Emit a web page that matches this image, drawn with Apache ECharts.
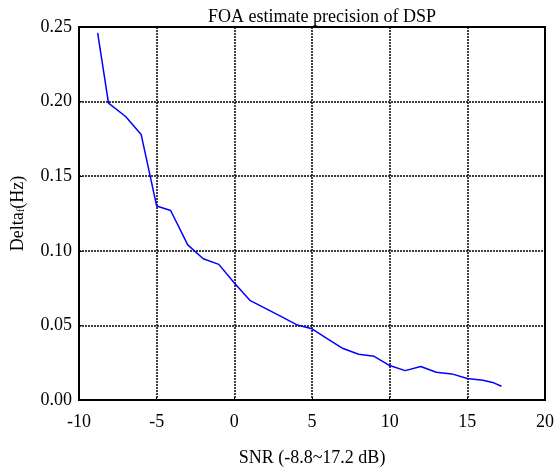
<!DOCTYPE html>
<html>
<head>
<meta charset="utf-8">
<script src="https://cdn.jsdelivr.net/npm/echarts@6/dist/echarts.min.js"></script>
<style>
  html, body { margin: 0; padding: 0; background: #fff; }
  #main { width: 557px; height: 472px; }
</style>
</head>
<body>
<div id="main"></div>
<script>
// SNR (dB) and FOA estimate error (Hz)
var snr = [-8.8, -8.1, -7.0, -6.0, -5.0, -4.1, -3.0, -2.0, -1.0, 0.0, 1.0, 2.0, 3.0, 4.0,
           5.0, 6.0, 7.0, 8.0, 9.0, 10.0, 11.0, 12.0, 13.0, 14.0, 15.0, 16.0, 16.7, 17.2];
var delta = [0.246, 0.199, 0.190, 0.178, 0.130, 0.127, 0.104, 0.0947, 0.0909, 0.0784, 0.0668, 0.0614, 0.056, 0.0505,
             0.0477, 0.041, 0.0345, 0.0307, 0.0293, 0.0231, 0.0197, 0.0224, 0.0186, 0.0175, 0.0144, 0.0133, 0.0115, 0.0092];
var xTicks = [-10, -5, 0, 5, 10, 15, 20];
var yTicks = [0, 0.05, 0.10, 0.15, 0.20, 0.25];

var serif = '"Liberation Serif", "DejaVu Serif", serif';
var myChart = echarts.init(document.getElementById('main'));

var points = snr.map(function (x, i) { return [x, delta[i]]; });

var option = {
  backgroundColor: '#fff',
  animation: false,
  title: {
    text: 'FOA estimate precision of DSP',
    left: 317, top: 3, textAlign: 'center',
    textStyle: { fontFamily: serif, fontSize: 18, fontWeight: 'normal', color: '#000' }
  },
  grid: {
    left: 79, right: 3, top: 27, bottom: 71,
    show: true, borderColor: '#000', borderWidth: 2
  },
  xAxis: {
    type: 'value',
    min: xTicks[0], max: xTicks[xTicks.length - 1], interval: 5,
    name: 'SNR (-8.8~17.2 dB)',
    nameLocation: 'middle', nameGap: 49,
    nameTextStyle: { fontFamily: serif, fontSize: 18, color: '#000' },
    axisLine: { show: true, onZero: false, lineStyle: { color: '#000', width: 2 } },
    axisTick: { show: true, inside: true, length: 3, lineStyle: { color: '#000' } },
    axisLabel: { fontFamily: serif, fontSize: 18, color: '#000', margin: 13 },
    splitLine: { show: true, lineStyle: { color: '#000', width: 1.5, type: [2, 1] } }
  },
  yAxis: {
    type: 'value',
    min: yTicks[0], max: yTicks[yTicks.length - 1], interval: 0.05,
    name: '{n|Delta}{s|f}{n|(Hz)}',
    nameLocation: 'middle', nameGap: 52,
    nameTextStyle: {
      fontFamily: serif, color: '#000',
      rich: {
        n: { fontFamily: serif, fontSize: 18, color: '#000' },
        s: { fontFamily: serif, fontSize: 11, color: '#000', padding: [7, 0, 0, 0] }
      }
    },
    axisLine: { show: true, onZero: false, lineStyle: { color: '#000', width: 2 } },
    axisTick: { show: true, inside: true, length: 3, lineStyle: { color: '#000' } },
    axisLabel: {
      fontFamily: serif, fontSize: 18, color: '#000', margin: 7,
      formatter: function (v) { return v.toFixed(2); }
    },
    splitLine: { show: true, lineStyle: { color: '#000', width: 1.5, type: [2, 1] } }
  },
  series: [{
    type: 'line',
    data: points,
    showSymbol: false,
    lineStyle: { color: '#0000ff', width: 1.5 },
    itemStyle: { color: '#0000ff' }
  }]
};

myChart.setOption(option);
</script>
</body>
</html>
